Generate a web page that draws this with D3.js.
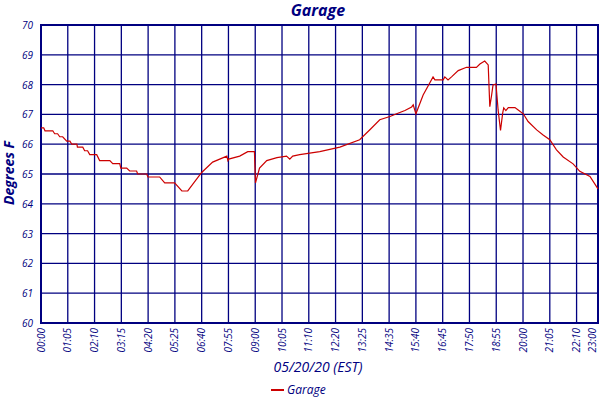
<!DOCTYPE html>
<html>
<head>
<meta charset="utf-8">
<script src="https://cdn.jsdelivr.net/npm/d3@7"></script>
<style>
  body { margin: 0; background: #fff; }
  text { font-family: "Open Sans", "DejaVu Sans", sans-serif; font-style: italic; fill: #000080; }
</style>
</head>
<body>
<svg id="chart" width="600" height="400"></svg>
<script>
// tick slots along the x axis and their labels
var tickSlots = [0,1,2,3,4,5,6,7,8,9,10,11,12,13,14,15,16,17,18,19,20,20.8];
var tickLabels = ["00:00","01:05","02:10","03:15","04:20","05:25","06:40","07:55","09:00","10:05",
  "11:10","12:20","13:25","14:35","15:40","16:45","17:50","18:55","20:00","21:05","22:10","23:00"];
var yTicks = [60,61,62,63,64,65,66,67,68,69,70];

// garage temperature (slot position, degrees F)
var slots = [0,0.10,0.15,0.44,0.51,0.62,0.70,0.81,0.96,1.08,1.15,1.34,1.36,1.56,1.63,1.74,1.82,2.08,
  2.19,2.57,2.68,2.94,2.98,3.20,3.31,3.57,3.61,3.95,3.99,4.43,4.62,4.99,5.26,5.48,6.00,6.41,6.94,6.98,
  7.01,7.42,7.72,7.97,8.01,8.16,8.43,8.81,9.17,9.29,9.40,9.66,10.41,11.16,11.90,12.30,12.65,13.03,13.28,
  13.59,13.84,13.90,14.00,14.27,14.64,14.71,15.02,15.08,15.20,15.33,15.58,15.89,16.26,16.39,16.57,16.70,
  16.76,16.82,16.88,16.99,17.07,17.16,17.24,17.28,17.36,17.45,17.70,17.82,18.01,18.19,18.51,18.75,19.00,
  19.25,19.50,19.87,20.12,20.50,20.80];
var temps = [66.55,66.55,66.45,66.45,66.35,66.35,66.25,66.25,66.1,66.1,66.0,66.0,65.9,65.9,65.78,65.78,65.65,65.65,
  65.45,65.45,65.35,65.35,65.2,65.2,65.1,65.1,65.0,65.0,64.9,64.9,64.7,64.7,64.43,64.43,65.05,65.4,65.6,65.45,
  65.5,65.6,65.75,65.75,64.7,65.2,65.45,65.55,65.6,65.5,65.6,65.65,65.75,65.9,66.15,66.5,66.82,66.93,67.02,
  67.13,67.25,67.32,67.02,67.65,68.26,68.16,68.16,68.26,68.16,68.26,68.47,68.58,68.58,68.69,68.79,68.66,
  67.26,67.6,67.99,68.02,67.15,66.46,67.04,67.22,67.13,67.23,67.23,67.15,67.02,66.76,66.48,66.31,66.15,
  65.81,65.57,65.34,65.09,64.92,64.5];

var svg = d3.select("#chart");
var m = {left: 41, right: 598, top: 25, bottom: 323};
var x = d3.scaleLinear().domain([0, 20.8]).range([m.left, m.right]);
var y = d3.scaleLinear().domain([60, 70]).range([m.bottom, m.top]);
var navy = "#000080";

// grid
svg.append("g").selectAll("line").data(tickSlots).join("line")
  .attr("x1", d => x(d)).attr("x2", d => x(d)).attr("y1", m.top).attr("y2", m.bottom)
  .attr("stroke", navy).attr("stroke-width", 1.3);
svg.append("g").selectAll("line").data(yTicks).join("line")
  .attr("x1", m.left).attr("x2", m.right).attr("y1", d => y(d)).attr("y2", d => y(d))
  .attr("stroke", navy).attr("stroke-width", 1.3);
svg.append("rect").attr("x", m.left).attr("y", m.top)
  .attr("width", m.right - m.left).attr("height", m.bottom - m.top)
  .attr("fill", "none").attr("stroke", navy).attr("stroke-width", 2);

// y labels
svg.append("g").selectAll("text").data(yTicks).join("text")
  .attr("x", 33).attr("y", d => y(d) + 4).attr("text-anchor", "end")
  .attr("font-size", 10).text(d => d);

// x labels, rotated (last one kept inside the window)
svg.append("g").selectAll("text").data(tickSlots).join("text")
  .attr("transform", d => "translate(" + Math.min(x(d) + 3.5, 596) + ",328) rotate(-90)")
  .attr("text-anchor", "end").attr("font-size", 10)
  .text((d, i) => tickLabels[i]);

// data line
var line = d3.line().x((d, i) => x(slots[i])).y(d => y(d));
svg.append("path").datum(temps).attr("d", line)
  .attr("fill", "none").attr("stroke", "#cc0000").attr("stroke-width", 1.2);

// titles
svg.append("text").attr("x", 318).attr("y", 16).attr("text-anchor", "middle")
  .attr("font-size", 16).attr("font-weight", "bold").text("Garage");
svg.append("text").attr("transform", "translate(14,173) rotate(-90)").attr("text-anchor", "middle")
  .attr("font-size", 14).attr("font-weight", "bold").text("Degrees F");
svg.append("text").attr("x", 318).attr("y", 372).attr("text-anchor", "middle")
  .attr("font-size", 14).text("05/20/20 (EST)");

// legend
svg.append("line").attr("x1", 271).attr("x2", 284).attr("y1", 390).attr("y2", 390)
  .attr("stroke", "#cc0000").attr("stroke-width", 2);
svg.append("text").attr("x", 287).attr("y", 394).attr("font-size", 12).text("Garage");
</script>
</body>
</html>
